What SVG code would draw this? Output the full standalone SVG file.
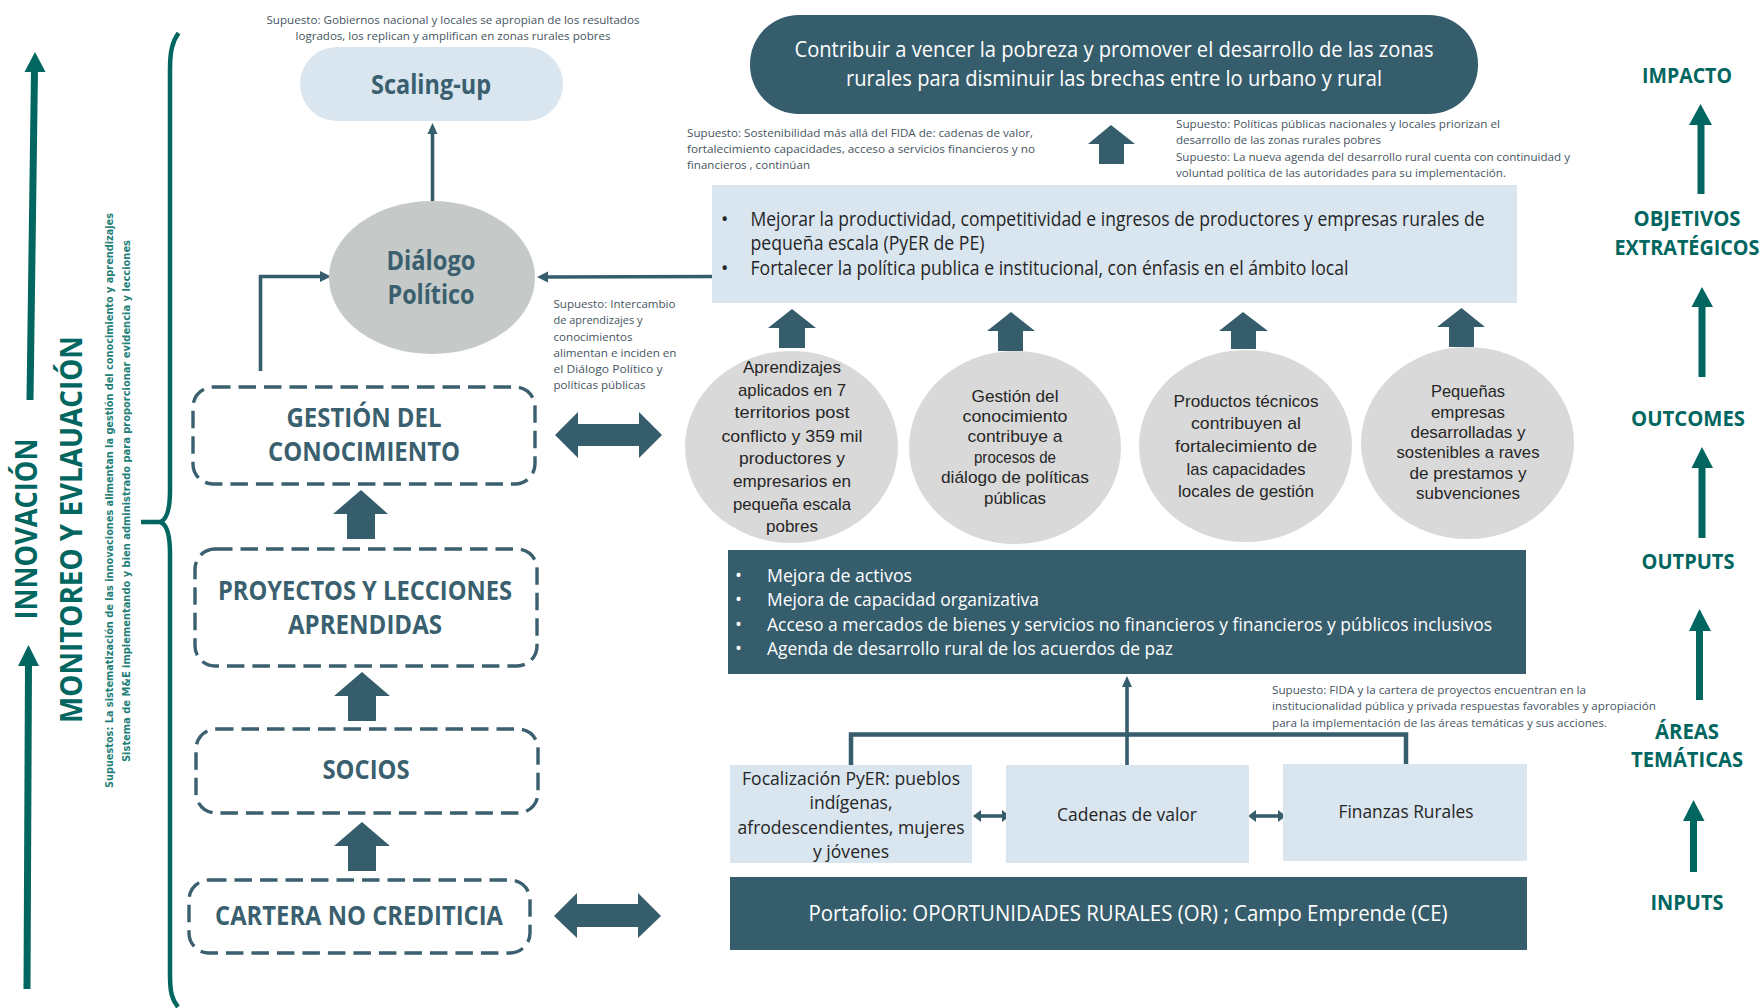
<svg xmlns="http://www.w3.org/2000/svg" width="1764" height="1008" viewBox="0 0 1764 1008">
<style>
text{font-family:"Open Sans","Liberation Sans",sans-serif}
.sup{font-size:11px;fill:#46555f}
.lbl{font-size:26px;font-weight:700;fill:#3a5f6e;text-anchor:middle}
.t{font-size:19.5px;fill:#262626}
.c{font-size:18px;fill:#262626;text-anchor:middle}
.e{font-family:"Liberation Sans",Arial,sans-serif;font-size:17px;fill:#262626;text-anchor:middle}
.w{fill:#fff}
.mid{text-anchor:middle}
.r{font-size:20.5px;font-weight:700;fill:#00665f;text-anchor:middle}
.dash{fill:none;stroke:#3a5f6e;stroke-width:3.4;stroke-dasharray:17.5 8}
.dark{fill:#365d6c}
.light{fill:#d9e5ef}
.el{fill:#d9d9d9}
.teal{fill:#00665f}
.tl{stroke:#00665f;stroke-width:7;fill:none}
.ln{stroke:#365d6c;stroke-width:3.6;fill:none}
.bar{stroke:#365d6c;stroke-width:4.5;fill:none}
.vt{font-size:11px;font-weight:700;fill:#1f8078;text-anchor:middle;font-family:"DejaVu Sans",sans-serif}
.vb{font-size:30px;font-weight:700;fill:#00665f;text-anchor:middle;font-family:"Open Sans",sans-serif}
</style>
<rect width="1764" height="1008" fill="#fff"/>

<g id="connectors">
  <path class="tl" d="M30 400 L34.5 70"/><path class="teal" d="M24.500 72 L35 52 L45.500 72 Z"/>
  <path class="tl" d="M27 989 L28.500 664"/><path class="teal" d="M18 666 L28.500 645 L39 666 Z"/>
  <path d="M178.500 33 C172 42 170 52 170 70 L170 490 C170 510 167 520 160 522 L141 522 M160 522 C167 524 170 534 170 554 L170 975 C170 992 172 1000 178 1007" fill="none" stroke="#00665f" stroke-width="4.500"/>
  <path class="ln" d="M432.500 201 L432.500 132"/><path class="dark" d="M427.500 134 L432.500 123 L437.500 134 Z"/>
  <path class="ln" d="M260.500 371 L260.500 276.500 L322 276.500"/><path class="dark" d="M320 271 L331 276.500 L320 282 Z"/>
  <path class="ln" d="M717 276.500 L546 277"/><path class="dark" d="M548 271.500 L537 277 L548 282.500 Z"/>
  <path class="ln" d="M1127 765 L1127 685"/><path class="dark" d="M1122 687 L1127 676 L1132 687 Z"/>
  <path class="bar" d="M851 766 L851 734.500 L1406 734.500 L1406 764"/>
  <path class="ln" d="M978 816 L1005 816"/><path class="dark" d="M981 810 L973 816 L981 822 Z M1002 810 L1010 816 L1002 822 Z"/>
  <path class="ln" d="M1253 816 L1281 816"/><path class="dark" d="M1256 810 L1248 816 L1256 822 Z M1278 810 L1286 816 L1278 822 Z"/>
  <path class="dark" d="M361 490 L388 514 L375 514 L375 539 L347 539 L347 514 L333 514 Z"/>
  <path class="dark" d="M362 672 L390 696 L376 696 L376 721 L348 721 L348 696 L334 696 Z"/>
  <path class="dark" d="M362 822 L390 846 L376 846 L376 871 L348 871 L348 846 L334 846 Z"/>
  <path class="dark" d="M1111 125 L1135 144 L1124 144 L1124 164 L1099 164 L1099 144 L1088 144 Z"/>
  <path class="dark" d="M792 309 L816 328 L805 328 L805 348 L779 348 L779 328 L768 328 Z"/>
  <path class="dark" d="M1011 312 L1035 331 L1023 331 L1023 351 L998 351 L998 331 L987 331 Z"/>
  <path class="dark" d="M1243 312 L1268 331 L1256 331 L1256 349 L1231 349 L1231 331 L1219 331 Z"/>
  <path class="dark" d="M1461.500 308 L1485 327 L1474 327 L1474 347 L1449 347 L1449 327 L1437 327 Z"/>
  <path class="dark" d="M555 435 L578 412 L578 424 L639 424 L639 412 L662 435 L639 458 L639 446 L578 446 L578 458 Z"/>
  <path class="dark" d="M554 916 L577 893 L577 904 L638 904 L638 893 L661 916 L638 938 L638 927 L577 927 L577 938 Z"/>
  <path class="tl" d="M1701 194 L1701 123"/><path class="teal" d="M1689 125 L1700.500 104 L1712 125 Z"/>
  <path class="tl" d="M1702 377 L1702 305"/><path class="teal" d="M1691.500 307 L1702 287 L1713 307 Z"/>
  <path class="tl" d="M1702 538 L1702 466"/><path class="teal" d="M1691.500 468 L1702 447 L1713 468 Z"/>
  <path class="tl" d="M1699.500 700 L1699.500 629"/><path class="teal" d="M1689 631 L1699.500 609 L1711 631 Z"/>
  <path class="tl" d="M1693.500 872 L1693.500 819"/><path class="teal" d="M1683 821 L1693.500 800 L1704.500 821 Z"/>
</g>

<g id="left-labels">
  <text class="vb" transform="translate(37 529) rotate(-90)" textLength="181" lengthAdjust="spacingAndGlyphs">INNOVACIÓN</text>
  <text class="vb" transform="translate(82 529.500) rotate(-90)" textLength="387" lengthAdjust="spacingAndGlyphs">MONITOREO Y EVLAUACIÓN</text>
  <text class="vt" transform="translate(113 500.500) rotate(-90)" textLength="575" lengthAdjust="spacingAndGlyphs">Supuestos: La sistematización de las innovaciones alimentan la gestión del conocimiento y aprendizajes</text>
  <text class="vt" transform="translate(130 501) rotate(-90)" textLength="522" lengthAdjust="spacingAndGlyphs">Sistema de M&amp;E implementando y bien administrado para proporcionar evidencia y lecciones</text>
</g>

<g id="scaling-up">
  <rect class="light" x="300" y="47" width="263" height="74" rx="37"/>
  <text class="lbl" x="431" y="94" textLength="120" lengthAdjust="spacingAndGlyphs">Scaling-up</text>
</g>
<g id="supuesto-gobiernos">
  <text class="sup mid" x="453" y="24" textLength="373" lengthAdjust="spacingAndGlyphs">Supuesto: Gobiernos nacional y locales se apropian de los resultados</text>
  <text class="sup mid" x="453" y="40" textLength="315" lengthAdjust="spacingAndGlyphs">logrados, los replican y amplifican en zonas rurales pobres</text>
</g>
<g id="dialogo-politico">
  <ellipse cx="432" cy="277.500" rx="103" ry="76.500" fill="#c5c9c7"/>
  <text class="lbl" x="431" y="270" textLength="89" lengthAdjust="spacingAndGlyphs">Diálogo</text>
  <text class="lbl" x="431" y="304" textLength="87" lengthAdjust="spacingAndGlyphs">Político</text>
</g>
<g id="supuesto-intercambio">
  <text class="sup" x="553.500" y="308" textLength="122" lengthAdjust="spacingAndGlyphs">Supuesto: Intercambio</text>
  <text class="sup" x="553.500" y="324" textLength="89" lengthAdjust="spacingAndGlyphs">de aprendizajes y</text>
  <text class="sup" x="553.500" y="341" textLength="79" lengthAdjust="spacingAndGlyphs">conocimientos</text>
  <text class="sup" x="553.500" y="357" textLength="123" lengthAdjust="spacingAndGlyphs">alimentan e inciden en</text>
  <text class="sup" x="553.500" y="373" textLength="109" lengthAdjust="spacingAndGlyphs">el Diálogo Político  y</text>
  <text class="sup" x="553.500" y="389" textLength="92" lengthAdjust="spacingAndGlyphs">políticas públicas</text>
</g>
<g id="gestion-conocimiento">
  <rect class="dash" x="193" y="387" width="342" height="97" rx="20"/>
  <text class="lbl" x="364" y="427" textLength="155" lengthAdjust="spacingAndGlyphs">GESTIÓN DEL</text>
  <text class="lbl" x="364" y="461" textLength="192" lengthAdjust="spacingAndGlyphs">CONOCIMIENTO</text>
</g>
<g id="proyectos">
  <rect class="dash" x="195" y="549" width="342" height="117" rx="20"/>
  <text class="lbl" x="365" y="600" textLength="294" lengthAdjust="spacingAndGlyphs">PROYECTOS Y LECCIONES</text>
  <text class="lbl" x="365" y="634" textLength="154" lengthAdjust="spacingAndGlyphs">APRENDIDAS</text>
</g>
<g id="socios">
  <rect class="dash" x="196" y="729" width="342" height="84" rx="20"/>
  <text class="lbl" x="366" y="779" textLength="87" lengthAdjust="spacingAndGlyphs">SOCIOS</text>
</g>
<g id="cartera">
  <rect class="dash" x="189" y="880" width="341" height="73" rx="20"/>
  <text class="lbl" x="359" y="925" textLength="288" lengthAdjust="spacingAndGlyphs">CARTERA NO CREDITICIA</text>
</g>

<g id="impacto-goal">
  <rect class="dark" x="750" y="15" width="728" height="99" rx="49"/>
  <text class="w mid" font-size="21" x="1114" y="57" textLength="639" lengthAdjust="spacingAndGlyphs">Contribuir a vencer la pobreza y promover el desarrollo de las zonas</text>
  <text class="w mid" font-size="21" x="1114" y="86" textLength="536" lengthAdjust="spacingAndGlyphs">rurales para disminuir las brechas entre lo urbano y rural</text>
</g>
<g id="supuesto-sostenibilidad">
  <text class="sup" x="687" y="137" textLength="346" lengthAdjust="spacingAndGlyphs">Supuesto: Sostenibilidad más allá del FIDA de: cadenas de valor,</text>
  <text class="sup" x="687" y="153" textLength="348" lengthAdjust="spacingAndGlyphs">fortalecimiento  capacidades, acceso a servicios financieros y no</text>
  <text class="sup" x="687" y="169" textLength="123" lengthAdjust="spacingAndGlyphs">financieros , continúan</text>
</g>
<g id="supuesto-politicas">
  <text class="sup" x="1176" y="128" textLength="324" lengthAdjust="spacingAndGlyphs">Supuesto: Políticas públicas nacionales y locales priorizan el</text>
  <text class="sup" x="1176" y="144" textLength="205" lengthAdjust="spacingAndGlyphs">desarrollo de las zonas rurales pobres</text>
  <text class="sup" x="1176" y="161" textLength="394" lengthAdjust="spacingAndGlyphs">Supuesto: La nueva agenda del desarrollo rural cuenta con continuidad y</text>
  <text class="sup" x="1176" y="177" textLength="330" lengthAdjust="spacingAndGlyphs">voluntad política de las autoridades para su implementación.</text>
</g>
<g id="objetivos">
  <rect class="light" x="712" y="185" width="805" height="118"/>
  <text class="t" x="721" y="226">•</text>
  <text class="t" x="750.500" y="226" textLength="734" lengthAdjust="spacingAndGlyphs">Mejorar la productividad, competitividad e ingresos de productores y empresas rurales de</text>
  <text class="t" x="750.500" y="250" textLength="234" lengthAdjust="spacingAndGlyphs">pequeña escala (PyER de PE)</text>
  <text class="t" x="721" y="275">•</text>
  <text class="t" x="750.500" y="275" textLength="598" lengthAdjust="spacingAndGlyphs">Fortalecer la política publica e institucional, con énfasis en el ámbito local</text>
</g>

<g id="aprendizajes">
  <ellipse class="el" cx="791.500" cy="447" rx="106.500" ry="96"/>
  <text class="e" x="792" y="373" textLength="98" lengthAdjust="spacingAndGlyphs">Aprendizajes</text>
  <text class="e" x="792" y="396" textLength="108" lengthAdjust="spacingAndGlyphs">aplicados en 7</text>
  <text class="e" x="792" y="418" textLength="115" lengthAdjust="spacingAndGlyphs">territorios post</text>
  <text class="e" x="792" y="442" textLength="141" lengthAdjust="spacingAndGlyphs">conflicto y 359 mil</text>
  <text class="e" x="792" y="464" textLength="106" lengthAdjust="spacingAndGlyphs">productores y</text>
  <text class="e" x="792" y="487" textLength="118" lengthAdjust="spacingAndGlyphs">empresarios en</text>
  <text class="e" x="792" y="510" textLength="118" lengthAdjust="spacingAndGlyphs">pequeña escala</text>
  <text class="e" x="792" y="532" textLength="52" lengthAdjust="spacingAndGlyphs">pobres</text>
</g>
<g id="gestion-circulo">
  <ellipse class="el" cx="1015" cy="447.500" rx="106" ry="96.500"/>
  <text class="e" x="1015" y="402" textLength="87" lengthAdjust="spacingAndGlyphs">Gestión del</text>
  <text class="e" x="1015" y="422" textLength="105" lengthAdjust="spacingAndGlyphs">conocimiento</text>
  <text class="e" x="1015" y="442" textLength="95" lengthAdjust="spacingAndGlyphs">contribuye a</text>
  <text class="e" x="1015" y="463" textLength="82" lengthAdjust="spacingAndGlyphs">procesos de</text>
  <text class="e" x="1015" y="483" textLength="148" lengthAdjust="spacingAndGlyphs">diálogo de políticas</text>
  <text class="e" x="1015" y="504" textLength="62" lengthAdjust="spacingAndGlyphs">públicas</text>
</g>
<g id="productos">
  <ellipse class="el" cx="1245.500" cy="446" rx="106.500" ry="96"/>
  <text class="e" x="1246" y="407" textLength="145" lengthAdjust="spacingAndGlyphs">Productos técnicos</text>
  <text class="e" x="1246" y="429" textLength="110" lengthAdjust="spacingAndGlyphs">contribuyen al</text>
  <text class="e" x="1246" y="452" textLength="142" lengthAdjust="spacingAndGlyphs">fortalecimiento de</text>
  <text class="e" x="1246" y="475" textLength="119" lengthAdjust="spacingAndGlyphs">las capacidades</text>
  <text class="e" x="1246" y="497" textLength="136" lengthAdjust="spacingAndGlyphs">locales de gestión</text>
</g>
<g id="pequenas">
  <ellipse class="el" cx="1467.500" cy="443" rx="106.500" ry="96"/>
  <text class="e" x="1468" y="397" textLength="74" lengthAdjust="spacingAndGlyphs">Pequeñas</text>
  <text class="e" x="1468" y="418" textLength="74" lengthAdjust="spacingAndGlyphs">empresas</text>
  <text class="e" x="1468" y="437.500" textLength="115" lengthAdjust="spacingAndGlyphs">desarrolladas y</text>
  <text class="e" x="1468" y="458" textLength="143" lengthAdjust="spacingAndGlyphs">sostenibles a raves</text>
  <text class="e" x="1468" y="479" textLength="117" lengthAdjust="spacingAndGlyphs">de prestamos y</text>
  <text class="e" x="1468" y="499" textLength="104" lengthAdjust="spacingAndGlyphs">subvenciones</text>
</g>

<g id="outputs-box">
  <rect class="dark" x="728" y="550" width="798" height="124"/>
  <g class="w" font-size="18.500">
    <text x="735" y="582">•</text>
    <text x="767" y="582" textLength="145" lengthAdjust="spacingAndGlyphs">Mejora de activos</text>
    <text x="735" y="606">•</text>
    <text x="767" y="606" textLength="272" lengthAdjust="spacingAndGlyphs">Mejora de capacidad organizativa</text>
    <text x="735" y="631">•</text>
    <text x="767" y="631" textLength="725" lengthAdjust="spacingAndGlyphs">Acceso a mercados de bienes y servicios no financieros y financieros y públicos inclusivos</text>
    <text x="735" y="655">•</text>
    <text x="767" y="655" textLength="406" lengthAdjust="spacingAndGlyphs">Agenda de desarrollo rural de los acuerdos de paz</text>
  </g>
</g>
<g id="supuesto-fida">
  <text class="sup" x="1272" y="694" textLength="314" lengthAdjust="spacingAndGlyphs">Supuesto: FIDA y la cartera de proyectos encuentran en la</text>
  <text class="sup" x="1272" y="710" textLength="384" lengthAdjust="spacingAndGlyphs">institucionalidad pública y privada respuestas favorables y  apropiación</text>
  <text class="sup" x="1272" y="727" textLength="335" lengthAdjust="spacingAndGlyphs">para la implementación de las áreas temáticas y sus acciones.</text>
</g>
<g id="focalizacion">
  <rect class="light" x="730" y="765" width="242" height="98"/>
  <text class="c" x="851" y="785" textLength="218" lengthAdjust="spacingAndGlyphs">Focalización PyER: pueblos</text>
  <text class="c" x="851" y="809" textLength="83" lengthAdjust="spacingAndGlyphs">indígenas,</text>
  <text class="c" x="851" y="834" textLength="227" lengthAdjust="spacingAndGlyphs">afrodescendientes, mujeres</text>
  <text class="c" x="851" y="858" textLength="76" lengthAdjust="spacingAndGlyphs">y jóvenes</text>
</g>
<g id="cadenas">
  <rect class="light" x="1006" y="765" width="243" height="98"/>
  <text class="c" x="1127" y="821" textLength="140" lengthAdjust="spacingAndGlyphs">Cadenas de valor</text>
</g>
<g id="finanzas">
  <rect class="light" x="1283" y="764" width="244" height="97"/>
  <text class="c" x="1406" y="818" textLength="135" lengthAdjust="spacingAndGlyphs">Finanzas Rurales</text>
</g>
<g id="portafolio">
  <rect class="dark" x="730" y="877" width="797" height="73"/>
  <text class="w mid" font-size="21" x="1128" y="921" textLength="639" lengthAdjust="spacingAndGlyphs">Portafolio: OPORTUNIDADES RURALES (OR) ; Campo Emprende (CE)</text>
</g>

<g id="right-labels">
  <text class="r" x="1687" y="83" textLength="90" lengthAdjust="spacingAndGlyphs">IMPACTO</text>
  <text class="r" x="1687" y="226" textLength="107" lengthAdjust="spacingAndGlyphs">OBJETIVOS</text>
  <text class="r" x="1687" y="255" textLength="145" lengthAdjust="spacingAndGlyphs">EXTRATÉGICOS</text>
  <text class="r" x="1688" y="426" textLength="114" lengthAdjust="spacingAndGlyphs">OUTCOMES</text>
  <text class="r" x="1688" y="569" textLength="93" lengthAdjust="spacingAndGlyphs">OUTPUTS</text>
  <text class="r" x="1687" y="739" textLength="64" lengthAdjust="spacingAndGlyphs">ÁREAS</text>
  <text class="r" x="1687" y="767" textLength="112" lengthAdjust="spacingAndGlyphs">TEMÁTICAS</text>
  <text class="r" x="1687" y="910" textLength="73" lengthAdjust="spacingAndGlyphs">INPUTS</text>
</g>
</svg>
